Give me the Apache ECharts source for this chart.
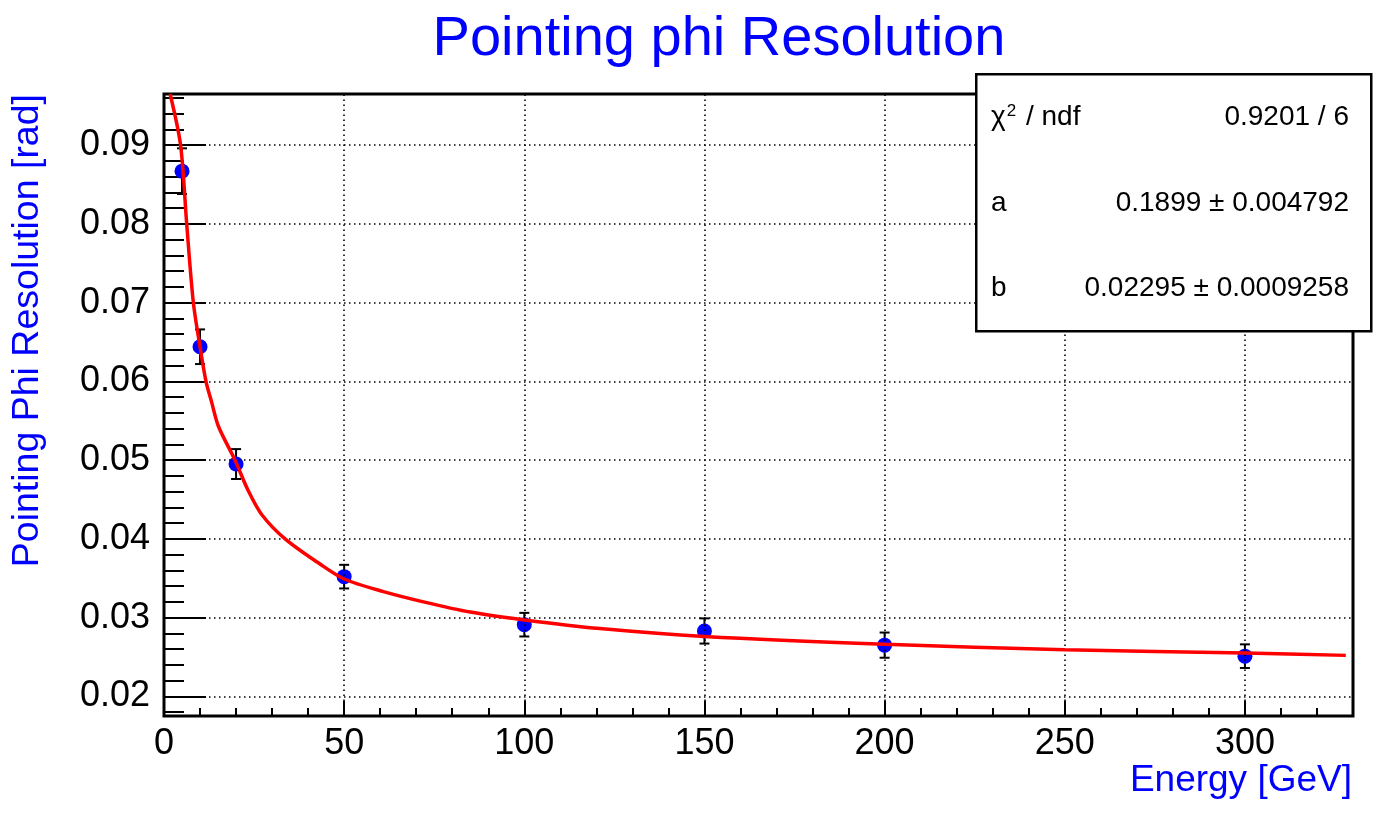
<!DOCTYPE html>
<html>
<head>
<meta charset="utf-8">
<script src="https://cdn.jsdelivr.net/npm/echarts@6/dist/echarts.min.js"></script>
<style>
html,body{margin:0;padding:0;background:#fff;}
#c{width:1383px;height:813px;}
</style>
</head>
<body>
<div id="c"></div>
<script>
// ---- data ----
var energy = [5, 10, 20, 50, 100, 150, 200, 300];
var resolution = [0.0867, 0.0644, 0.0495, 0.0352, 0.0291, 0.0283, 0.0265, 0.0251];
var resError = [0.0029, 0.0022, 0.0019, 0.0015, 0.0015, 0.0016, 0.0016, 0.0015];

// fit curve (red)
var fitE = [1.7, 4.6, 6.3, 8.15, 10, 11.7, 13.2, 15.1, 19.7, 23.4, 27.1, 33.6, 43.3, 50, 60.9, 72, 85, 100, 121, 150, 200, 250, 300, 328];
var fitY = [0.0965, 0.0900, 0.0800, 0.0700, 0.0644, 0.0599, 0.0574, 0.0543, 0.0500, 0.0461, 0.0431, 0.0400, 0.0368, 0.0349, 0.0333, 0.0320, 0.0307, 0.0297, 0.0286, 0.0276, 0.0266, 0.0259, 0.0255, 0.0252];

// axis ticks
var xMajor = [0, 50, 100, 150, 200, 250, 300];
var xMinor = [10, 20, 30, 40, 60, 70, 80, 90, 110, 120, 130, 140, 160, 170, 180, 190, 210, 220, 230, 240, 260, 270, 280, 290, 310, 320];
var xGrid = [50, 100, 150, 200, 250, 300];
var yMajor = [0.02, 0.03, 0.04, 0.05, 0.06, 0.07, 0.08, 0.09];
var yMinor = [0.018, 0.022, 0.024, 0.026, 0.028, 0.032, 0.034, 0.036, 0.038, 0.042, 0.044, 0.046, 0.048, 0.052, 0.054, 0.056, 0.058, 0.062, 0.064, 0.066, 0.068, 0.072, 0.074, 0.076, 0.078, 0.082, 0.084, 0.086, 0.088, 0.092, 0.094, 0.096];

// fit statistics box
var statLabels = ['{t|\u03c7}{s|2}{t| / ndf}', '{t|a}', '{t|b}'];
var statValues = ['0.9201 / 6', '0.1899 \u00b1 0.004792', '0.02295 \u00b1 0.0009258'];

var FONT = '"Liberation Sans", Arial, Helvetica, sans-serif';
var X_MIN = 0, X_MAX = 330, Y_MIN = 0.0175, Y_MAX = 0.0965;

var points = energy.map(function (e, i) { return [e, resolution[i]]; });
var bars = energy.map(function (e, i) { return [e, resolution[i], resError[i]]; });
var fit = fitE.map(function (e, i) { return [e, fitY[i]]; });

var gridLines = xGrid.map(function (v) { return { xAxis: v }; })
  .concat(yMajor.map(function (v) { return { yAxis: v }; }));

var chart = echarts.init(document.getElementById('c'), null, { renderer: 'canvas' });

var statGraphics = [{
  type: 'rect', left: 975, top: 73, z: 100,
  shape: { width: 395, height: 257 },
  style: { fill: '#fff', stroke: '#000', lineWidth: 2.5 }
}];
var rowY = [117, 203, 288];
statLabels.forEach(function (t, i) {
  statGraphics.push({
    type: 'text', x: 991, y: rowY[i], z: 101,
    style: {
      text: t, fill: '#000', textAlign: 'left', textVerticalAlign: 'middle',
      rich: {
        t: { fontSize: 28, fontFamily: FONT, color: '#000', verticalAlign: 'bottom' },
        s: { fontSize: 17, fontFamily: FONT, color: '#000', verticalAlign: 'top', padding: [0, 2, 10, 1] }
      }
    }
  });
  statGraphics.push({
    type: 'text', x: 1349, y: rowY[i], z: 101,
    style: { text: statValues[i], fill: '#000', font: '28px ' + FONT, textAlign: 'right', textVerticalAlign: 'middle' }
  });
});

var option = {
  backgroundColor: '#fff',
  animation: false,
  title: {
    text: 'Pointing phi Resolution',
    left: 714, top: 7, textAlign: 'center',
    textStyle: { color: '#0000ff', fontSize: 56, fontWeight: 'normal', fontFamily: FONT }
  },
  grid: {
    left: 164, right: 30, top: 94, bottom: 97,
    show: true, borderColor: '#000', borderWidth: 3, backgroundColor: '#fff'
  },
  xAxis: [{
    type: 'value', min: X_MIN, max: X_MAX,
    axisLine: { show: false },
    axisTick: { show: true, inside: true, length: 15, customValues: xMajor, lineStyle: { color: '#000', width: 2 } },
    axisLabel: { show: true, customValues: xMajor, margin: 10, color: '#000', fontSize: 36, fontFamily: FONT },
    splitLine: { show: false }
  }, {
    type: 'value', min: X_MIN, max: X_MAX, position: 'bottom',
    axisLine: { show: false },
    axisTick: { show: true, inside: true, length: 8, customValues: xMinor, lineStyle: { color: '#000', width: 2 } },
    axisLabel: { show: false },
    splitLine: { show: false }
  }],
  yAxis: [{
    type: 'value', min: Y_MIN, max: Y_MAX,
    axisLine: { show: false },
    axisTick: { show: true, inside: true, length: 42, customValues: yMajor, lineStyle: { color: '#000', width: 2 } },
    axisLabel: { show: true, customValues: yMajor, margin: 14, color: '#000', fontSize: 36, fontFamily: FONT,
      formatter: function (v) { return v.toFixed(2); } },
    splitLine: { show: false }
  }, {
    type: 'value', min: Y_MIN, max: Y_MAX, position: 'left',
    axisLine: { show: false },
    axisTick: { show: true, inside: true, length: 20, customValues: yMinor, lineStyle: { color: '#000', width: 2 } },
    axisLabel: { show: false },
    splitLine: { show: false }
  }],
  graphic: [{
    type: 'text', x: 1352, y: 781, z: 50,
    style: { text: 'Energy [GeV]', fill: '#0000ff', font: '37px ' + FONT, textAlign: 'right', textVerticalAlign: 'middle' }
  }, {
    type: 'text', x: 28, y: 94, rotation: Math.PI / 2, z: 50,
    style: { text: 'Pointing Phi Resolution [rad]', fill: '#0000ff', font: '37.5px ' + FONT, textAlign: 'right', textVerticalAlign: 'middle' }
  }].concat(statGraphics),
  series: [{
    type: 'line', name: 'grid', xAxisIndex: 0, yAxisIndex: 0, z: 1,
    data: points, symbol: 'none', silent: true,
    lineStyle: { opacity: 0 },
    markLine: {
      silent: true, symbol: 'none', label: { show: false },
      lineStyle: { color: '#000', type: [1.5, 3.5], width: 1.6 },
      emphasis: { disabled: true },
      data: gridLines
    }
  }, {
    type: 'custom', name: 'errors', xAxisIndex: 0, yAxisIndex: 0, z: 3,
    data: bars, silent: true,
    renderItem: function (params, api) {
      var x = api.value(0), y = api.value(1), e = api.value(2);
      var top = api.coord([x, y + e]);
      var bot = api.coord([x, y - e]);
      var w = 5;
      var st = { stroke: '#000', lineWidth: 2 };
      return {
        type: 'group',
        children: [
          { type: 'line', shape: { x1: top[0], y1: top[1], x2: bot[0], y2: bot[1] }, style: st },
          { type: 'line', shape: { x1: top[0] - w, y1: top[1], x2: top[0] + w, y2: top[1] }, style: st },
          { type: 'line', shape: { x1: bot[0] - w, y1: bot[1], x2: bot[0] + w, y2: bot[1] }, style: st }
        ]
      };
    }
  }, {
    type: 'scatter', name: 'data', xAxisIndex: 0, yAxisIndex: 0, z: 4,
    data: points, symbol: 'circle', symbolSize: 15,
    itemStyle: { color: '#0000ff', opacity: 1 }
  }, {
    type: 'line', name: 'fit', xAxisIndex: 0, yAxisIndex: 0, z: 5,
    data: fit, symbol: 'none', smooth: 0.3, clip: true,
    lineStyle: { color: '#ff0000', width: 3.5 }
  }]
};
chart.setOption(option);
</script>
</body>
</html>
